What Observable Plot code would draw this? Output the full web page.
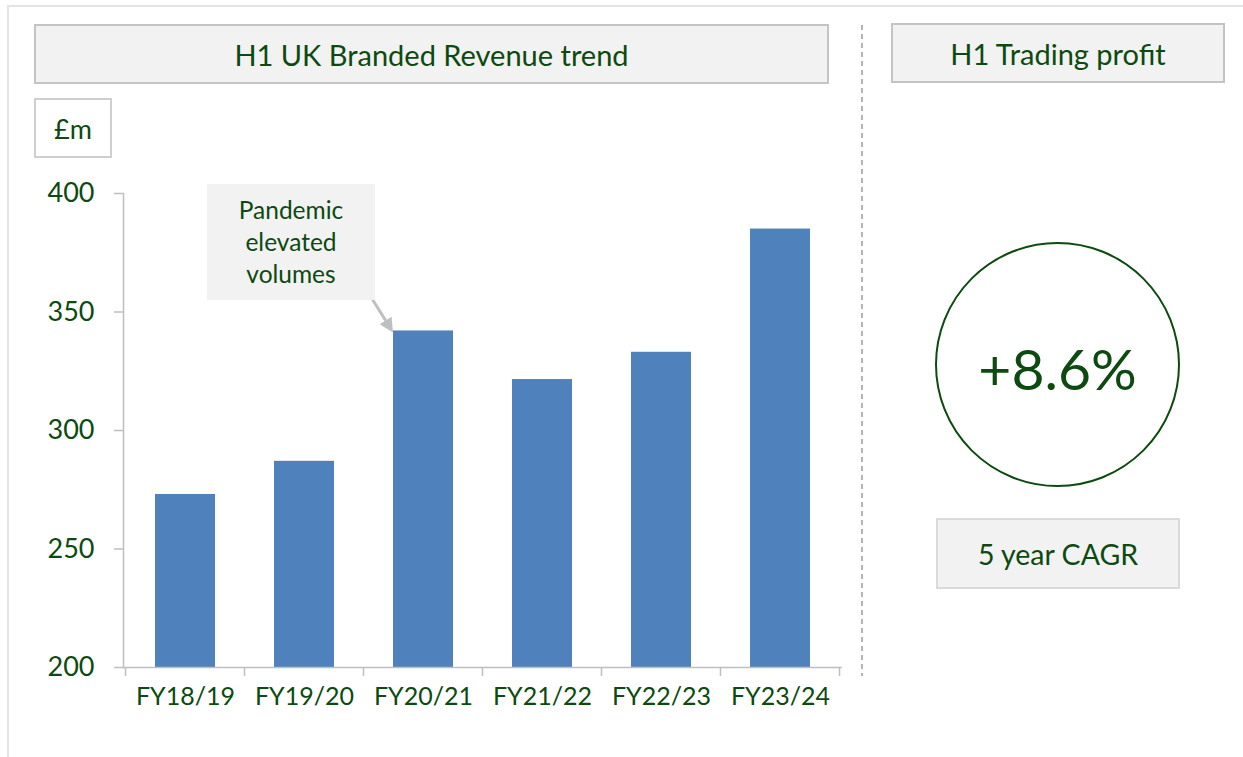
<!DOCTYPE html>
<html><head><meta charset="utf-8">
<script src="https://cdn.jsdelivr.net/npm/d3@7"></script>
<script src="https://cdn.jsdelivr.net/npm/@observablehq/plot@0.6"></script>
<style>
html,body{margin:0;padding:0;background:#fff;}
#wrap{position:relative;width:1243px;height:757px;overflow:hidden;font-family:Lato,sans-serif;}
#wrap svg.plot{position:absolute;left:0;top:0;}
.box{position:absolute;box-sizing:border-box;display:flex;align-items:center;justify-content:center;color:#0c4a0f;text-align:center;white-space:nowrap;}
</style></head><body>
<div id="wrap"></div>
<script>
// ---- data ----
const categories = ["FY18/19", "FY19/20", "FY20/21", "FY21/22", "FY22/23", "FY23/24"];
const revenue = [273, 287, 342, 321.5, 333, 385];
const yTicks = [200, 250, 300, 350, 400];
const yDomain = [200, 400];
const panelTitles = ["H1 UK Branded Revenue trend", "H1 Trading profit"];
const unitLabel = "£m";
const annotationLines = ["Pandemic", "elevated", "volumes"];
const annotatedCategory = "FY20/21";
const cagrValue = "+8.6%";
const cagrLabel = "5 year CAGR";

// ---- styles ----
const green = "#0c4a0f";
const barBlue = "#4f81bd";
const axisGray = "#bfbfbf";

const data = categories.map((c, i) => ({year: c, value: revenue[i]}));
const wrap = document.getElementById("wrap");

// outer frame
const frame = document.createElement("div");
frame.style.cssText = "position:absolute;left:7px;top:5px;width:1300px;height:800px;border:2px solid #e4e4e4;box-sizing:border-box;";
wrap.appendChild(frame);

const chart = Plot.plot({
  width: 1243, height: 757,
  marginLeft: 123, marginRight: 401, marginTop: 193, marginBottom: 90,
  style: {fontFamily: "Lato, sans-serif", background: "transparent", overflow: "visible"},
  x: {domain: categories, paddingInner: 0.5, paddingOuter: 0.25, label: null},
  y: {domain: yDomain, label: null},
  marks: [
    Plot.barY(data, {x: "year", y1: yDomain[0], y2: "value", fill: barBlue}),
    Plot.frame({anchor: "left", stroke: axisGray, strokeWidth: 1.5}),
    Plot.ruleY([yDomain[0]], {stroke: axisGray, strokeWidth: 1.5}),
    Plot.axisY({ticks: yTicks, tickSize: 9, stroke: axisGray, strokeWidth: 1.5, tickFormat: () => "", label: null}),
    Plot.axisY({ticks: yTicks, tickSize: 0, tickPadding: 29, fill: green, fontSize: 27, label: null, tickFormat: d => String(d)}),
    Plot.axisX({tickSize: 0, tickPadding: 20, fill: green, fontSize: 25, label: null})
  ]
});
chart.classList.add("plot");
wrap.appendChild(chart);

// boundary ticks on x axis and annotation arrow, placed from the plot's scales
const xs = chart.scale("x"), ys = chart.scale("y");
const gap = xs.step - xs.bandwidth;
const svg = d3.select(chart);
const y0 = ys.apply(yDomain[0]);
const bounds = categories.map(c => xs.apply(c) - gap / 2).concat([xs.apply(categories[categories.length - 1]) + xs.bandwidth + gap / 2]);
svg.append("g").selectAll("line").data(bounds).join("line")
  .attr("x1", d => d).attr("x2", d => d).attr("y1", y0).attr("y2", y0 + 9)
  .attr("stroke", axisGray).attr("stroke-width", 1.5);

const tipX = xs.apply(annotatedCategory);
const tipY = ys.apply(revenue[categories.indexOf(annotatedCategory)]) + 2;
const tailX = tipX - 23, tailY = tipY - 37;
const ang = Math.atan2(tipY - tailY, tipX - tailX);
const hl = 14, hw = 7;
const bx = tipX - hl * Math.cos(ang), by = tipY - hl * Math.sin(ang);
svg.append("line").attr("x1", tailX).attr("y1", tailY).attr("x2", bx).attr("y2", by)
  .attr("stroke", "#bfbfbf").attr("stroke-width", 3);
svg.append("polygon").attr("points", [
  [tipX, tipY],
  [bx + hw * Math.sin(ang), by - hw * Math.cos(ang)],
  [bx - hw * Math.sin(ang), by + hw * Math.cos(ang)]
].map(p => p.join(",")).join(" ")).attr("fill", "#bfbfbf");

// dashed divider
svg.append("line").attr("x1", 862).attr("x2", 862).attr("y1", 25).attr("y2", 676)
  .attr("stroke", "#8c8c8c").attr("stroke-width", 1.3).attr("stroke-dasharray", "5,4");

function box(text, css) {
  const d = document.createElement("div");
  d.className = "box";
  d.style.cssText += css;
  d.innerHTML = text;
  wrap.appendChild(d);
  return d;
}
box(panelTitles[0], "left:34px;top:24px;width:795px;height:60px;background:#f2f2f2;border:2px solid #c4c4c4;font-size:29px;");
box(panelTitles[1], "left:891px;top:23px;width:334px;height:60px;background:#f2f2f2;border:2px solid #c4c4c4;font-size:29px;");
box(unitLabel, "left:34px;top:98px;width:78px;height:60px;background:#fff;border:2px solid #cfcfcf;font-size:27px;");
box(annotationLines.join("<br>"), "left:207px;top:184px;width:168px;height:116px;background:#f2f2f2;font-size:24.5px;line-height:32px;");
box(cagrValue, "left:935px;top:242px;width:245px;height:245px;border:2.5px solid " + green + ";border-radius:50%;background:#fff;font-size:57px;padding-top:6px;");
box(cagrLabel, "left:936px;top:518px;width:244px;height:71px;background:#f2f2f2;border:2px solid #dadada;font-size:28.5px;");
</script>
</body></html>
